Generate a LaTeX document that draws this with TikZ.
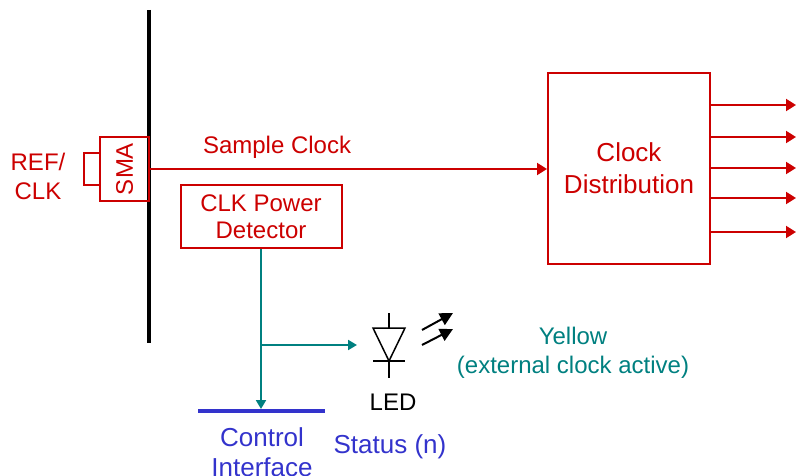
\documentclass[tikz,border=0pt]{standalone}
\usepackage{fontspec}
\setmainfont{Liberation Sans}
\usetikzlibrary{positioning, arrows.meta, calc}

\definecolor{sigred}{RGB}{204,0,0}
\definecolor{ctrlteal}{RGB}{0,128,128}
\definecolor{busblue}{RGB}{51,51,204}

\tikzset{
  txt/.style={align=center, inner sep=0pt, font=\fontsize{24}{29}\selectfont},
  redbox/.style={draw=sigred, line width=2pt, text=sigred, align=center, font=\fontsize{24}{27}\selectfont},
  sigline/.style={draw=sigred, line width=2pt, -{Triangle[length=10pt, width=12pt]}},
  ctrlline/.style={draw=ctrlteal, line width=2pt, -{Triangle[length=9pt, width=10pt]}},
  lightray/.style={draw=black, line width=2pt, -{Triangle[length=13pt, width=13pt]}}
}

\begin{document}
\begin{tikzpicture}[x=1pt, y=-1pt]

		\useasboundingbox (0,0) rectangle (796,476);

		% panel and connector
		\draw[line width=4pt] (149,10) -- (149,343);
		\node[redbox, rotate=90, minimum width=64pt, minimum height=49pt, inner sep=0pt] (sma)    at (124.5,169)  {SMA};
		\draw[sigred, line width=2pt] (sma.north |- 0,153) -- ++(-15,0) -- ++(0,32) -- (sma.north |- 0,185);
		\node[txt, text=sigred]                                                          (refclk) at (38,176)     {REF/\\CLK};

		% blocks
		\node[redbox, minimum width=162pt, minimum height=191pt, font=\fontsize{26}{32}\selectfont] (clkdist) at (629,168.5) {Clock\\Distribution};
		\node[redbox, minimum width=161pt, minimum height=63pt]                          (detector) at (261,216.5) {CLK Power\\Detector};

		% control side
		\coordinate (ctrl)   at (261,411);
		\coordinate (branch) at (261,345);
		\coordinate (ledin)  at (357,345);
		\draw[busblue, line width=3.5pt] ($(ctrl)+(-63,0)$) -- ($(ctrl)+(64,0)$);
		\node[txt, text=busblue, font=\fontsize{26}{30}\selectfont]                      (ctrltxt) at (262,452)   {Control\\Interface};
		\node[txt, text=busblue, font=\fontsize{26}{30}\selectfont]                      (status)  at (390,447)   {Status (n)};

		% LED
		\draw[line width=1.5pt] (389,313) -- (389,328);
		\draw[line width=1.5pt, line join=miter] (373,328) -- (405,328) -- (389,361) -- cycle;
		\draw[line width=1.5pt] (373,361) -- (405,361);
		\draw[line width=1.5pt] (389,361) -- (389,378);
		\coordinate (ray1a) at (422,330);
		\coordinate (ray1b) at (453,313);
		\coordinate (ray2a) at (422,345);
		\coordinate (ray2b) at (453,329);
		\draw[lightray] (ray1a) -- (ray1b);
		\draw[lightray] (ray2a) -- (ray2b);
		\node[txt]                                                                       (ledtxt)  at (393,402)   {LED};
		\node[txt, text=ctrlteal]                                                        (yellow)  at (573,353)   {Yellow\\(external clock active)};

		% signals
		\draw[sigline] (sma.south) -- node[txt, text=sigred, above=10pt, pos=0.32] {Sample Clock} (sma.south -| clkdist.west);
		\foreach \y [count=\i] in {105,137,168,198,232} {
			\coordinate (out\i) at (796,\y);
			\draw[sigline] (clkdist.east |- out\i) -- (out\i);
		}

		\draw[ctrlline] (detector.south) -- ($(ctrl)+(0,-2)$);
		\draw[ctrlline] (branch) -- (ledin);

	\end{tikzpicture}
\end{document}
